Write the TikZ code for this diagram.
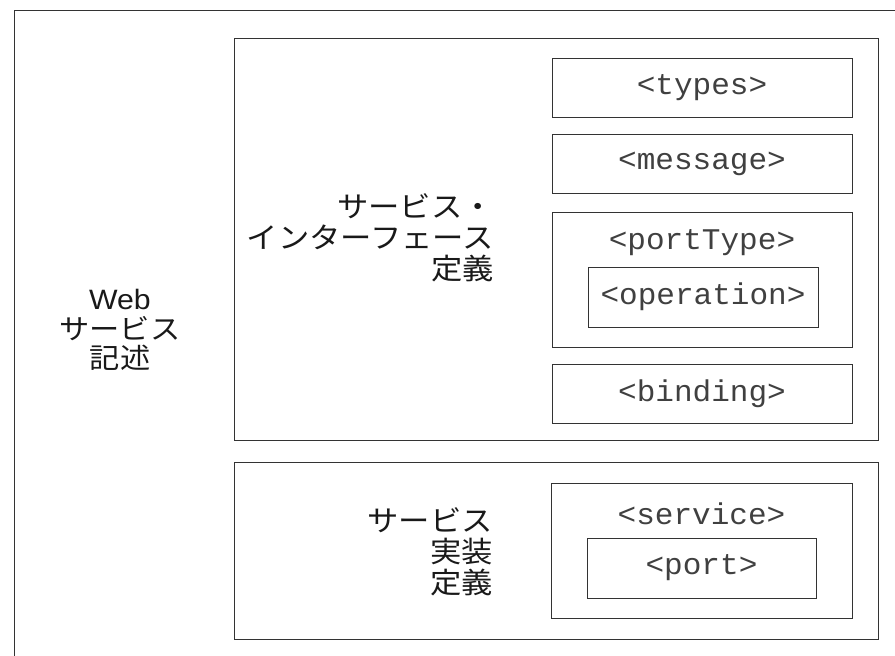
\documentclass[tikz,border=0pt]{standalone}
\usepackage{graphicx}
\usepackage{fontspec}
\setmainfont{Liberation Sans}
\newfontfamily\jp{Noto Sans CJK JP}
\newfontfamily\mono{Liberation Mono}
\newcommand\sx[1]{\scalebox{1.08}[1]{#1}}
\newcommand\mx[1]{\scalebox{1.035}[1]{#1}}
\begin{document}
\begin{tikzpicture}[x=1pt,y=-1pt,
  box/.style={draw=black!80,line width=1pt,rectangle,inner sep=0pt},
  tag/.style={font=\mono\fontsize{30}{30}\selectfont,text=black!75,inner sep=0pt},
  lbl/.style={font=\jp\fontsize{29}{31}\selectfont,text=black!90,inner sep=0pt}]
\useasboundingbox (0,0) rectangle (895,656);
\clip (0,0) rectangle (895,656);
% outer box (extends past the right and bottom edges)
\node[box,minimum width=890pt,minimum height=660pt,anchor=north west] (outer) at (14,10) {};
% interface definition
\node[box,minimum width=644pt,minimum height=402pt,anchor=north west] (iface) at (234,38) {};
\node[box,minimum width=300pt,minimum height=59pt] (types) at (702,87.5) {};
\node[tag] (typest) at (types.center) {\mx{<types>}};
\node[box,minimum width=300pt,minimum height=59pt] (message) at (702,163.5) {};
\node[tag] (messaget) at (message.center) {\mx{<message>}};
\node[box,minimum width=300pt,minimum height=135pt] (porttype) at (702,279.5) {};
\node[tag] (porttypet) at (702,243) {\mx{<portType>}};
\node[box,minimum width=230pt,minimum height=60pt] (operation) at (703,297) {};
\node[tag] (operationt) at (operation.center) {\mx{<operation>}};
\node[box,minimum width=300pt,minimum height=59pt] (binding) at (702,393.5) {};
\node[tag] (bindingt) at (binding.center) {\mx{<binding>}};
\node[lbl,align=right,anchor=east] (ifacet) at (494,238) {\sx{サービス・}\\\sx{インターフェース}\\\sx{定義}};
% service implementation
\node[box,minimum width=644pt,minimum height=177pt,anchor=north west] (impl) at (234,462) {};
\node[box,minimum width=301pt,minimum height=135pt] (service) at (701.5,550.5) {};
\node[tag] (servicet) at (701.5,514) {\mx{<service>}};
\node[box,minimum width=229pt,minimum height=60pt] (port) at (701.5,568) {};
\node[tag] (portt) at (port.center) {\mx{<port>}};
\node[lbl,align=right,anchor=east] (implt) at (493,552) {\sx{サービス}\\\sx{実装}\\\sx{定義}};
% web service description
\node[lbl,align=center,font=\fontsize{28}{29.5}\selectfont] (webt) at (120,330) {\sx{Web}\\\sx{\jp サービス}\\\sx{\jp 記述}};
\end{tikzpicture}
\end{document}
